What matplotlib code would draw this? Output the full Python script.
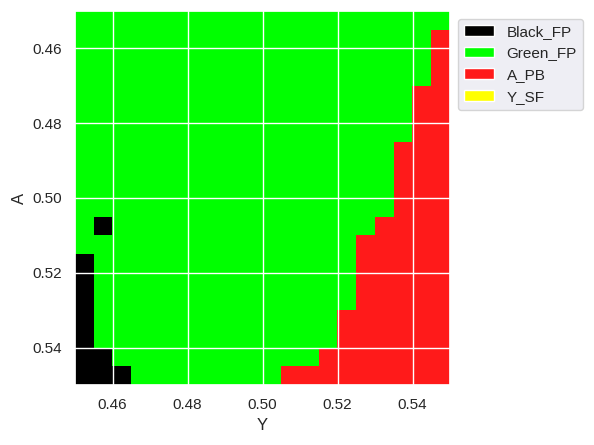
import matplotlib
matplotlib.use("Agg")
import matplotlib.pyplot as plt
import numpy as np
import seaborn as sns
from matplotlib.colors import ListedColormap
from matplotlib.patches import Patch

# class grid, rows = A (0.45 at top), cols = Y, step 0.005
y_min, y_max = 0.45, 0.55
a_min, a_max = 0.45, 0.55
grid_rows = [
    "GGGGGGGGGGGGGGGGGGGG",
    "GGGGGGGGGGGGGGGGGGGR",
    "GGGGGGGGGGGGGGGGGGGR",
    "GGGGGGGGGGGGGGGGGGGR",
    "GGGGGGGGGGGGGGGGGGRR",
    "GGGGGGGGGGGGGGGGGGRR",
    "GGGGGGGGGGGGGGGGGGRR",
    "GGGGGGGGGGGGGGGGGRRR",
    "GGGGGGGGGGGGGGGGGRRR",
    "GGGGGGGGGGGGGGGGGRRR",
    "GGGGGGGGGGGGGGGGGRRR",
    "GBGGGGGGGGGGGGGGRRRR",
    "GGGGGGGGGGGGGGGRRRRR",
    "BGGGGGGGGGGGGGGRRRRR",
    "BGGGGGGGGGGGGGGRRRRR",
    "BGGGGGGGGGGGGGGRRRRR",
    "BGGGGGGGGGGGGGRRRRRR",
    "BGGGGGGGGGGGGGRRRRRR",
    "BBGGGGGGGGGGGRRRRRRR",
    "BBBGGGGGGGGRRRRRRRRR",
]
class_keys = ["B", "G", "R", "Y"]
class_names = ["Black_FP", "Green_FP", "A_PB", "Y_SF"]
class_colors = ["#000000", "#00ff00", "#ff1a1a", "#ffff00"]
y_ticks = [0.46, 0.48, 0.50, 0.52, 0.54]
a_ticks = [0.46, 0.48, 0.50, 0.52, 0.54]

codes = np.array([[class_keys.index(c) for c in row] for row in grid_rows])

sns.set_theme()
plt.rcParams['font.family'] = ['Liberation Sans', 'DejaVu Sans']
fig = plt.figure(figsize=(5.94, 4.45), dpi=100)
ax = fig.add_axes([75/594, 60/445, 375/594, 374/445])

cmap = ListedColormap(class_colors)
ax.imshow(codes, cmap=cmap, vmin=-0.5, vmax=3.5, interpolation="nearest",
          extent=[y_min, y_max, a_max, a_min], aspect="auto")
ax.set_xlim(y_min, y_max)
ax.set_ylim(a_max, a_min)
ax.set_xticks(y_ticks)
ax.set_yticks(a_ticks)
ax.set_xticklabels([f"{t:.2f}" for t in y_ticks])
ax.set_yticklabels([f"{t:.2f}" for t in a_ticks])
ax.set_xlabel("Y")
ax.set_ylabel("A")

handles = [Patch(facecolor=c, label=n) for c, n in zip(class_colors, class_names)]
ax.legend(handles=handles, loc="upper left", bbox_to_anchor=(1.0, 1.0))

fig.savefig("out.png", dpi=100)
